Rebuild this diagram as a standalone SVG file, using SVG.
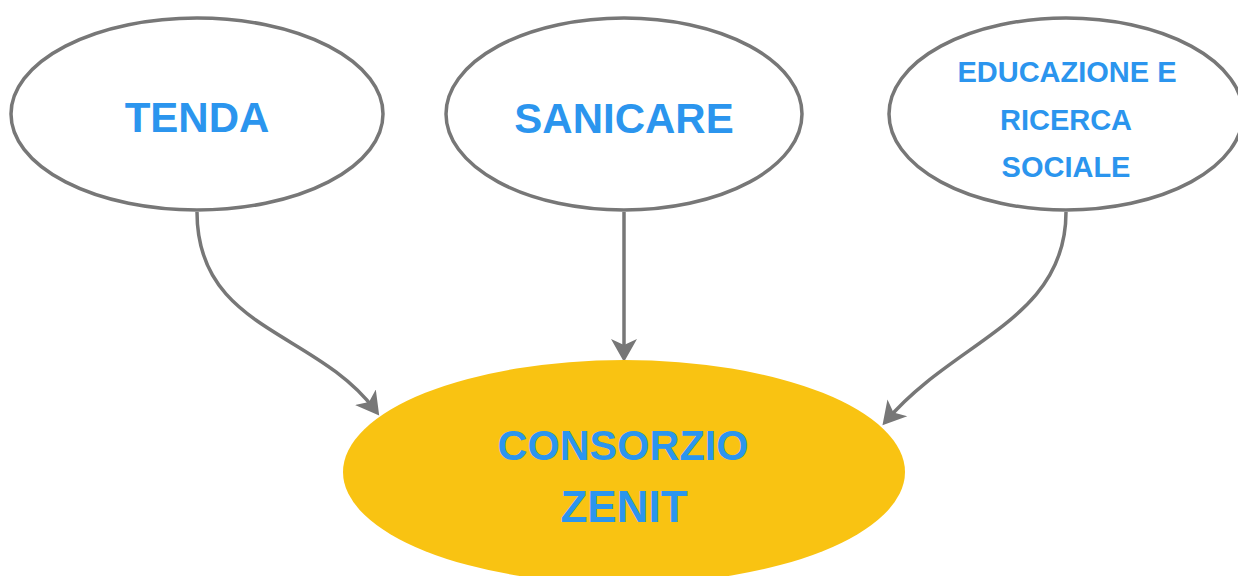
<svg xmlns="http://www.w3.org/2000/svg" width="1238" height="576" viewBox="0 0 1238 576">
<style>
.node{fill:#fff;stroke:#777;stroke-width:3.5}
.main{fill:#f9c312;stroke:none}
.lbl{font-family:"Liberation Sans",Arial,sans-serif;font-weight:bold;fill:#2b95ee;text-anchor:middle}
.edge{fill:none;stroke:#777;stroke-width:3.5}
</style>
<defs>
<marker id="ah" viewBox="0 0 24 28" refX="16" refY="14" markerWidth="24" markerHeight="28" markerUnits="userSpaceOnUse" orient="auto">
<path d="M0,1 L23,14 L0,27 L6,14 Z" fill="#777"/>
</marker>
</defs>
<rect width="1238" height="576" fill="#fff"/>
<g id="connectors">
<path class="edge" d="M197,212 C197,330 315,330 375,410" marker-end="url(#ah)"/>
<path class="edge" d="M624,212 L624,355" marker-end="url(#ah)"/>
<path class="edge" d="M1066,212 C1066,320 955,340 887,420" marker-end="url(#ah)"/>
</g>
<g id="tenda">
<ellipse class="node" cx="197" cy="114" rx="186" ry="96"/>
<text class="lbl" x="197" y="132" font-size="42">TENDA</text>
</g>
<g id="sanicare">
<ellipse class="node" cx="624" cy="114" rx="178" ry="96"/>
<text class="lbl" x="624" y="133" font-size="42">SANICARE</text>
</g>
<g id="educazione">
<ellipse class="node" cx="1066" cy="114" rx="177" ry="96"/>
<text class="lbl" x="1067" y="82" font-size="29">EDUCAZIONE E</text>
<text class="lbl" x="1066" y="130" font-size="29">RICERCA</text>
<text class="lbl" x="1066" y="177" font-size="29">SOCIALE</text>
</g>
<g id="consorzio">
<ellipse class="main" cx="624" cy="472" rx="281" ry="112"/>
<text class="lbl" x="623" y="460" font-size="42" textLength="251" lengthAdjust="spacingAndGlyphs">CONSORZIO</text>
<text class="lbl" x="624" y="522" font-size="44">ZENIT</text>
</g>
</svg>
